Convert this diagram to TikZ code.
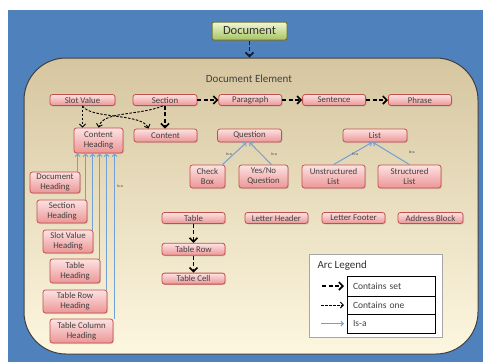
\documentclass[tikz,border=0pt]{standalone}
\usepackage{fontspec}
\setmainfont{Carlito}
\usetikzlibrary{arrows.meta, positioning, shadows}
\definecolor{bgblue}{RGB}{79,129,189}
\definecolor{tantop}{RGB}{214,198,160}
\definecolor{tanbot}{RGB}{253,247,224}
\definecolor{pinktop}{RGB}{253,226,226}
\definecolor{pinkbot}{RGB}{236,150,150}
\definecolor{pinkline}{RGB}{192,80,77}
\definecolor{greentop}{RGB}{242,247,214}
\definecolor{greenbot}{RGB}{165,196,96}
\definecolor{greenline}{RGB}{110,112,60}
\definecolor{isablue}{RGB}{112,160,214}
\definecolor{navy}{RGB}{20,30,60}
\definecolor{txt}{RGB}{64,64,64}
\tikzset{
  elem/.style={rectangle,draw=pinkline,line width=0.8pt,rounded corners=2.5pt,top color=pinktop,bottom color=pinkbot,
    align=center,inner sep=1pt,text=txt,font=\fontsize{8.8}{10}\selectfont,minimum width=63pt,minimum height=12pt,
    drop shadow={opacity=0.25,shadow xshift=1pt,shadow yshift=-1pt}},
  twoline/.style={minimum height=23pt},
  docbox/.style={rectangle,draw=greenline,line width=1pt,rounded corners=2pt,top color=greentop,bottom color=greenbot,
    minimum width=75pt,minimum height=18pt,font=\fontsize{12.5}{14}\selectfont,text=black!80,
    drop shadow={opacity=0.3,shadow xshift=1pt,shadow yshift=-1pt}},
  panel/.style={rectangle,draw=black!75,line width=1pt,rounded corners=42pt,top color=tantop,bottom color=tanbot,
    minimum width=454pt,minimum height=296pt,inner sep=0pt},
  legbox/.style={rectangle,draw=black!35,line width=0.8pt,fill=white,minimum width=133pt,minimum height=83pt,inner sep=0pt},
  legrow/.style={rectangle,draw=black,line width=0.8pt,minimum width=88pt,text width=76pt,inner xsep=6pt,inner ysep=0pt,
    align=left,font=\fontsize{9.5}{11}\selectfont,text=txt},
  set/.style={-{Straight Barb[length=4pt,width=8pt,line width=1.6pt]},line width=1.8pt,dash pattern=on 4pt off 2.5pt},
  one/.style={-{Straight Barb[length=3pt,width=6pt]},line width=0.9pt,dash pattern=on 2.5pt off 1.5pt},
  isa/.style={-{Straight Barb[length=2.5pt,width=5pt]},draw=isablue,line width=1pt},
  isalbl/.style={font=\fontsize{4}{4}\selectfont,text=txt,inner sep=1pt}
}
\begin{document}
\begin{tikzpicture}[x=1pt,y=-1pt]
\useasboundingbox (0,0) rectangle (483,362);
\fill[bgblue] (8,10) rectangle (483,362);
\node[panel] (de) at (251,206) {};
\node[font=\fontsize{11}{13}\selectfont,text=txt] (delbl) at (249,79) {Document Element};
\node[docbox] (doc) at (249.5,31) {Document};
\draw[set,draw=navy] (doc) -- (doc |- de.north);

% top row
\node[elem,minimum width=65pt,minimum height=11pt] (sv) at (82.5,100) {Slot Value};
\node[elem,minimum width=64pt,minimum height=11pt] (sec) at (165,100) {Section};
\node[elem,minimum height=11pt,right=21pt of sec] (par) {Paragraph};
\node[elem,minimum height=11pt,right=20pt of par] (sen) {Sentence};
\node[elem,minimum height=11pt,right=22pt of sen] (phr) {Phrase};
\draw[set] (sec) -- (par);
\draw[set] (par) -- (sen);
\draw[set] (sen) -- (phr);

% content
\node[elem,minimum width=49pt,minimum height=25pt] (ch) at (98.5,140.5) {Content\\Heading};
\node[elem,minimum height=13pt] (con) at (165.5,135.5) {Content};
\coordinate (c1) at (90,119); \coordinate (c2) at (142,113);
\coordinate (c3) at (138,116); \coordinate (c4) at (103,111);
\draw[one] (sv.south) -- (sv.south |- ch.north);
\draw[one] (sv.south) .. controls (c1) and (c2) .. ([xshift=-17pt]con.north);
\draw[one] ([xshift=-2pt]sec.south) .. controls (c3) and (c4) .. (ch.north);
\draw[set] (sec.south) -- (sec.south |- con.north);

% question and list
\node[elem,minimum width=64pt,minimum height=13pt] (qu) at (249.5,135.5) {Question};
\node[elem,minimum width=64pt,minimum height=13pt] (lst) at (375,135.5) {List};
\node[elem,twoline,minimum width=35pt] (cb) at (207.5,176.5) {Check\\Box};
\node[elem,twoline,minimum width=49pt] (yn) at (263.5,176.5) {Yes/No\\Question};
\node[elem,twoline] (ul) at (333.5,176.5) {Unstructured\\List};
\node[elem,twoline] (sl) at (409.5,176.5) {Structured\\List};
\draw[isa] ([xshift=-3pt]cb.north east) -- node[isalbl,left,pos=0.45] {Is-a} ([xshift=-3pt]qu.south);
\draw[isa] ([xshift=8pt]yn.north) -- node[isalbl,right,pos=0.45,xshift=8pt] {Is-a} (qu.south);
\draw[isa] (ul.north) -- node[isalbl,right,pos=0.45] {Is-a} ([xshift=-3pt]lst.south);
\draw[isa] (sl.north) -- node[isalbl,right,pos=0.55,xshift=18pt] {Is-a} ([xshift=-2pt]lst.south);

% table and letter parts
\node[elem,minimum height=11pt] (tab) at (193.5,218) {Table};
\node[elem,minimum height=11pt] (lh) at (276.5,218) {Letter Header};
\node[elem,minimum height=11pt] (lf) at (353.5,218) {Letter Footer};
\node[elem,minimum width=65pt,minimum height=11pt] (ab) at (430.5,218) {Address Block};
\node[elem,minimum height=12pt,below=19pt of tab] (trow) {Table Row};
\node[elem,minimum height=11pt,below=17pt of trow] (tcell) {Table Cell};
\draw[set] (tab) -- (trow);
\draw[set] (trow) -- (tcell);

% headings
\node[elem,minimum width=50pt,minimum height=21pt] (dh) at (55,182.5) {Document\\Heading};
\node[elem,minimum width=50pt,twoline] (sh) at (62,211.5) {Section\\Heading};
\node[elem,minimum width=50pt,twoline] (svh) at (68,241.5) {Slot Value\\Heading};
\node[elem,minimum width=50pt,minimum height=24pt] (th) at (75,271) {Table\\Heading};
\node[elem,minimum width=64pt,twoline] (trh) at (75,301.5) {Table Row\\Heading};
\node[elem,minimum width=63pt,minimum height=24pt] (tch) at (81.5,331) {Table Column\\Heading};
\foreach \h/\dx in {dh/4,sh/12,svh/19,th/26,trh/33,tch/41} {
  \coordinate (t\h) at ([xshift=\dx pt]ch.south west);
  \draw[isa] (t\h |- \h.north) -- (t\h);
}
\node[isalbl] (isah) at (120,186) {Is-a};

% legend
\node[legbox] (leg) at (375.5,295.5) {};
\node[font=\fontsize{11}{13}\selectfont,text=black!80,anchor=west] (legt) at (314,266) {Arc Legend};
\node[legrow,minimum height=20pt] (r1) at (391,286) {Contains set};
\node[legrow,minimum height=18pt] (r2) at (391,305) {Contains one};
\node[legrow,minimum height=19pt] (r3) at (391,323.5) {Is-a};
\coordinate (s1) at (322,286); \coordinate (e1) at (344,286);
\coordinate (s2) at (321,305); \coordinate (e2) at (344,305);
\coordinate (s3) at (321,323.5); \coordinate (e3) at (344,323.5);
\draw[set] (s1) -- (e1);
\draw[one] (s2) -- (e2);
\draw[isa] (s3) -- (e3);
\end{tikzpicture}
\end{document}
